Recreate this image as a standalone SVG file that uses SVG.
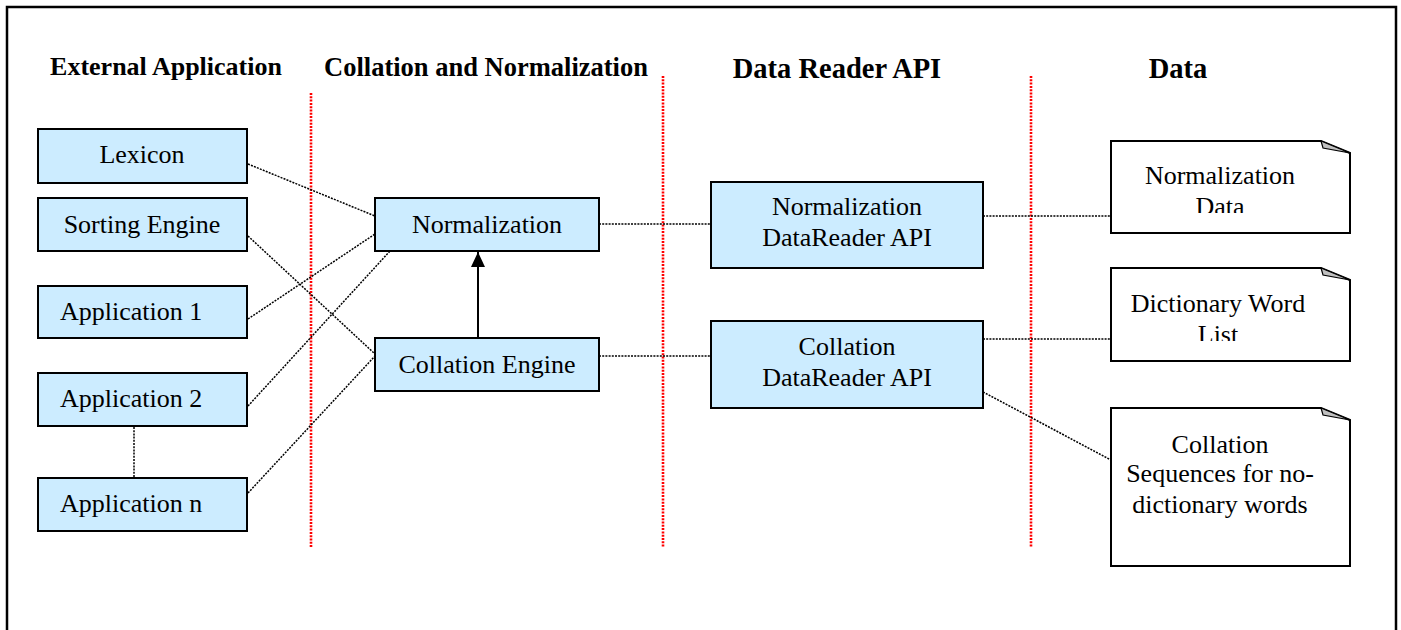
<svg xmlns="http://www.w3.org/2000/svg" width="1401" height="630" viewBox="0 0 1401 630">
<style>
.frame{fill:#fff;stroke:#000;stroke-width:2.5}
.box{fill:#CCECFF;stroke:#000;stroke-width:2}
.note{fill:#fff;stroke:#000;stroke-width:2}
.fold{fill:#C0C0C0;stroke:#000;stroke-width:1.2}
text{font-family:'Liberation Serif',Tinos,'Times New Roman',Times,serif;font-size:26px;fill:#000}
.h{font-weight:bold;text-anchor:middle}
.hl{font-size:28.5px}
.c{text-anchor:middle}
.sep{stroke:#FF0000;stroke-width:2.6;stroke-dasharray:2 1.3;fill:none}
.dot{stroke:#000;stroke-width:1.5;stroke-dasharray:2 1.2;fill:none}
.solid{stroke:#000;stroke-width:2;fill:none}
</style>
<defs>
<marker id="arr" viewBox="0 0 15 14" refX="15" refY="7" markerWidth="15" markerHeight="14" markerUnits="userSpaceOnUse" orient="auto">
<path d="M0,0 L15,7 L0,14 Z" fill="#000"/>
</marker>
<clipPath id="c1"><rect x="1111" y="141" width="240" height="72"/></clipPath>
<clipPath id="c2"><rect x="1111" y="268" width="240" height="73"/></clipPath>
</defs>
<rect class="frame" x="7" y="7" width="1389" height="640"/>

<g id="headings">
<text class="h" x="166" y="75">External Application</text>
<text class="h" x="486" y="76" style="font-size:26.5px">Collation and Normalization</text>
<text class="h hl" x="837" y="78">Data Reader API</text>
<text class="h hl" x="1178" y="78">Data</text>
</g>

<g id="separators">
<line class="sep" x1="311" y1="93" x2="311" y2="548"/>
<line class="sep" x1="663" y1="76" x2="663" y2="548"/>
<line class="sep" x1="1031" y1="76" x2="1031" y2="548"/>
</g>

<g id="connectors">
<line class="dot" x1="248" y1="164" x2="375" y2="216"/>
<line class="dot" x1="248" y1="236" x2="375" y2="354"/>
<line class="dot" x1="248" y1="319" x2="375" y2="234"/>
<line class="dot" x1="248" y1="406" x2="390" y2="251"/>
<line class="dot" x1="248" y1="493" x2="375" y2="356"/>
<line class="dot" x1="134" y1="427" x2="134" y2="478"/>
<line class="dot" x1="599" y1="224" x2="711" y2="224"/>
<line class="dot" x1="599" y1="356" x2="711" y2="356"/>
<line class="dot" x1="983" y1="216" x2="1111" y2="216"/>
<line class="dot" x1="983" y1="339" x2="1111" y2="339"/>
<line class="dot" x1="983" y1="392" x2="1111" y2="460"/>
<line class="solid" x1="478" y1="338" x2="478" y2="252" marker-end="url(#arr)"/>
</g>

<g id="lexicon">
<rect class="box" x="38" y="129" width="209" height="54"/>
<text class="c" x="142" y="163">Lexicon</text>
</g>
<g id="sorting-engine">
<rect class="box" x="38" y="198" width="209" height="53"/>
<text class="c" x="142" y="233">Sorting Engine</text>
</g>
<g id="application-1">
<rect class="box" x="38" y="286" width="209" height="52"/>
<text x="60" y="320">Application 1</text>
</g>
<g id="application-2">
<rect class="box" x="38" y="373" width="209" height="53"/>
<text x="60" y="407">Application 2</text>
</g>
<g id="application-n">
<rect class="box" x="38" y="478" width="209" height="53"/>
<text x="60" y="512">Application n</text>
</g>

<g id="normalization">
<rect class="box" x="375" y="198" width="224" height="53"/>
<text class="c" x="487" y="233">Normalization</text>
</g>
<g id="collation-engine">
<rect class="box" x="375" y="338" width="224" height="53"/>
<text class="c" x="487" y="373">Collation Engine</text>
</g>

<g id="normalization-datareader">
<rect class="box" x="711" y="182" width="272" height="86"/>
<text class="c" x="847" y="215">Normalization</text>
<text class="c" x="847" y="246">DataReader API</text>
</g>
<g id="collation-datareader">
<rect class="box" x="711" y="321" width="272" height="87"/>
<text class="c" x="847" y="355">Collation</text>
<text class="c" x="847" y="386">DataReader API</text>
</g>

<g id="normalization-data">
<path class="note" d="M1111,141 H1321 L1350,153 V233 H1111 Z"/>
<path class="fold" d="M1321,141 L1350,153 L1323,148 Z"/>
<g clip-path="url(#c1)">
<text class="c" x="1220" y="184">Normalization</text>
<text class="c" x="1220" y="215">Data</text>
</g>
</g>
<g id="dictionary-word-list">
<path class="note" d="M1111,268 H1321 L1350,280 V361 H1111 Z"/>
<path class="fold" d="M1321,268 L1350,280 L1323,275 Z"/>
<g clip-path="url(#c2)">
<text class="c" x="1218" y="312">Dictionary Word</text>
<text class="c" x="1218" y="343">List</text>
</g>
</g>
<g id="collation-sequences">
<path class="note" d="M1111,408 H1321 L1350,420 V566 H1111 Z"/>
<path class="fold" d="M1321,408 L1350,420 L1323,415 Z"/>
<text class="c" x="1220" y="453">Collation</text>
<text class="c" x="1220" y="482">Sequences for no-</text>
<text class="c" x="1220" y="513">dictionary words</text>
</g>
</svg>
